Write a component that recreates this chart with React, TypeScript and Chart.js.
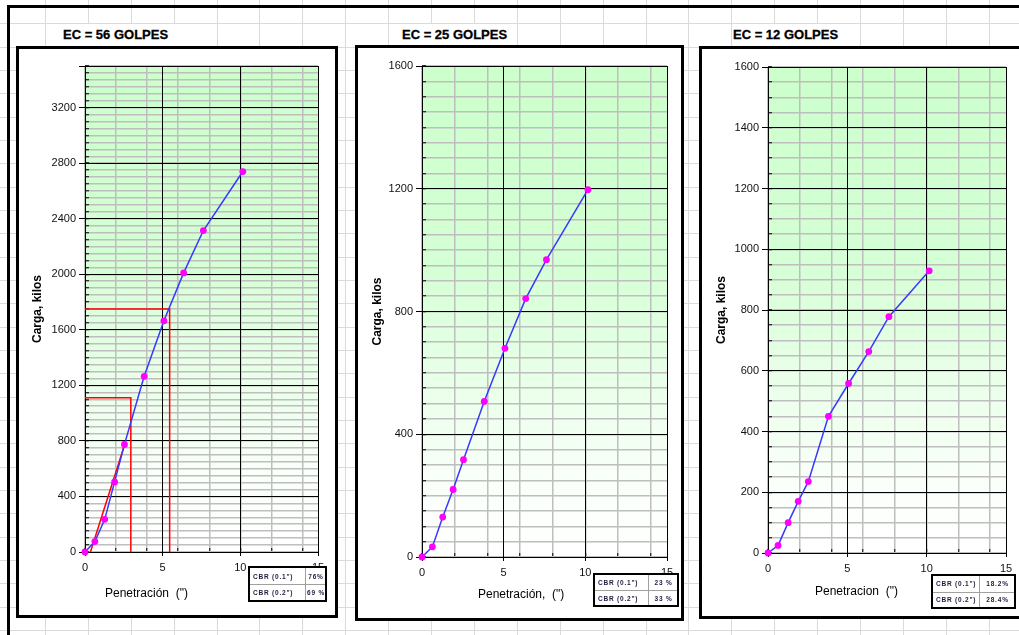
import React, { useEffect, useRef } from 'react';
import { Chart, registerables } from 'chart.js';

Chart.register(...registerables);

// ---------------- data ----------------
const penetration = [0, 0.635, 1.27, 1.905, 2.54, 3.81, 5.08, 6.35, 7.62, 10.16];
const load56 = [0, 75, 235, 505, 775, 1265, 1665, 2010, 2315, 2740];
const load25 = [0, 33, 130, 220, 317, 507, 680, 842, 969, 1197];
const load12 = [0, 25, 100, 170, 235, 450, 558, 663, 778, 929];

// correction / CBR read-off lines (56 golpes)
const corr56X = [0.35, 2.6];
const corr56Y = [0, 790];
const cbr01X56 = [0, 2.95, 2.95];
const cbr01Y56 = [1110, 1110, 0];
const cbr02X56 = [0, 5.45, 5.45];
const cbr02Y56 = [1750, 1750, 0];

const xTicks = [0, 5, 10, 15];
const xMinorTicks = [0, 2, 4, 6, 8, 10, 12, 14];
const xMax = 15;
const y56Ticks = [0, 400, 800, 1200, 1600, 2000, 2400, 2800, 3200];
const y25Ticks = [0, 400, 800, 1200, 1600];
const y12Ticks = [0, 200, 400, 600, 800, 1000, 1200, 1400, 1600];
const y56Max = 3500;
const y25Max = 1600;
const y12Max = 1600;
const yMinorStep = 50;

const panelTitles = ['EC = 56 GOLPES', 'EC = 25 GOLPES', 'EC = 12 GOLPES'];
const xTitles = ['Penetración  (")', 'Penetración,  (")', 'Penetracion  (")'];
const yTitle = 'Carga, kilos';
const cbrLabels = ['CBR (0.1")', 'CBR (0.2")'];
const cbr56 = ['76%', '69 %'];
const cbr25 = ['23 %', '33 %'];
const cbr12 = ['18.2%', '28.4%'];

// ---------------- helpers ----------------
const FONT = 'Liberation Sans, Arial, sans-serif';

function range(a: number, b: number, s: number) {
  const out: number[] = [];
  for (let v = a; v <= b + 1e-9; v += s) out.push(Math.round(v * 1000) / 1000);
  return out;
}

function pts(xs: number[], ys: number[]) {
  return xs.map((x, i) => ({ x, y: ys[i] }));
}

const bgPlugin = {
  id: 'greenBg',
  beforeDraw(chart: any) {
    const { ctx, chartArea: a } = chart;
    if (!a) return;
    const g = ctx.createLinearGradient(0, a.top, 0, a.bottom);
    g.addColorStop(0, '#ccffcc');
    g.addColorStop(0.4, '#d5ffd5');
    g.addColorStop(0.85, '#fafffa');
    g.addColorStop(1, '#ffffff');
    ctx.save();
    ctx.fillStyle = g;
    ctx.fillRect(a.left, a.top, a.right - a.left, a.bottom - a.top);
    ctx.restore();
  },
};

type Plot = { l: number; t: number; r: number; b: number };
type Line = { x: number[]; y: number[] };
type Spec = {
  plot: Plot;
  yTitleX: number;
  loads: number[];
  yTicks: number[];
  yMax: number;
  red: Line[];
};

const PAD_L = 70;
const PAD_T = 14;
const PAD_R = 14;
const X_H = 40;

function buildConfig(spec: Spec): any {
  const canvasLeft = spec.plot.l - PAD_L;
  const yMajor = spec.yTicks.includes(spec.yMax) ? spec.yTicks : [...spec.yTicks, spec.yMax];
  const datasets: any[] = [
    {
      data: pts(penetration, spec.loads),
      showLine: true,
      borderColor: '#3838ff',
      borderWidth: 1.5,
      pointRadius: 3.4,
      pointBackgroundColor: '#ff00ff',
      pointBorderWidth: 0,
      tension: 0,
      clip: false,
      order: 0,
    },
    ...spec.red.map((l) => ({
      data: pts(l.x, l.y),
      showLine: true,
      borderColor: '#ff0000',
      borderWidth: 1.5,
      pointRadius: 0,
      tension: 0,
      order: 1,
    })),
  ];
  return {
    type: 'scatter',
    data: { datasets },
    plugins: [bgPlugin],
    options: {
      animation: false,
      responsive: false,
      devicePixelRatio: 1,
      layout: { padding: { top: PAD_T, right: PAD_R, left: 0, bottom: 0 } },
      plugins: { legend: { display: false }, tooltip: { enabled: false }, title: { display: false } },
      scales: {
        xMinor: {
          type: 'linear',
          axis: 'x',
          position: 'bottom',
          min: 0,
          max: xMax,
          weight: 0,
          grid: { color: '#bebebe', lineWidth: 1.5, drawTicks: true, tickLength: -4, tickColor: '#000', tickWidth: 1, z: -2 },
          border: { display: false },
          ticks: { display: false },
          afterBuildTicks: (s: any) => {
            s.ticks = xMinorTicks.map((v) => ({ value: v }));
          },
          afterFit: (s: any) => {
            s.height = 0;
          },
        },
        x: {
          type: 'linear',
          position: 'bottom',
          min: 0,
          max: xMax,
          weight: 1,
          grid: { color: '#000', lineWidth: 1, drawTicks: true, tickLength: 4, tickColor: '#000', z: -1 },
          border: { display: true, color: '#000', width: 1 },
          ticks: {
            font: { family: FONT, size: 11 },
            color: '#111',
            padding: 5,
            maxRotation: 0,
            autoSkip: false,
            callback: (v: any) => String(v),
          },
          afterBuildTicks: (s: any) => {
            s.ticks = xTicks.map((v) => ({ value: v }));
          },
          afterFit: (s: any) => {
            s.height = X_H;
          },
        },
        yMinor: {
          type: 'linear',
          axis: 'y',
          position: 'left',
          min: 0,
          max: spec.yMax,
          weight: 0,
          grid: { color: '#bebebe', lineWidth: 1.5, drawTicks: true, tickLength: -4, tickColor: '#000', tickWidth: 1, z: -2 },
          border: { display: false },
          ticks: { display: false },
          afterBuildTicks: (s: any) => {
            s.ticks = range(0, spec.yMax, yMinorStep).map((v) => ({ value: v }));
          },
          afterFit: (s: any) => {
            s.width = 0;
          },
        },
        y: {
          type: 'linear',
          position: 'left',
          min: 0,
          max: spec.yMax,
          weight: 1,
          grid: { color: '#000', lineWidth: 1, drawTicks: true, tickLength: 6, tickColor: '#000', z: -1 },
          border: { display: true, color: '#000', width: 1 },
          ticks: {
            font: { family: FONT, size: 11 },
            color: '#111',
            padding: 3,
            autoSkip: false,
            callback: (v: any) => (spec.yTicks.includes(v) ? String(v) : ''),
          },
          title: {
            display: true,
            text: yTitle,
            color: '#000',
            font: { family: FONT, size: 12, weight: 'bold' },
            padding: { top: spec.yTitleX - canvasLeft - 7.2, bottom: 0 },
          },
          afterBuildTicks: (s: any) => {
            s.ticks = yMajor.map((v) => ({ value: v }));
          },
          afterFit: (s: any) => {
            s.width = PAD_L;
          },
        },
      },
    },
  };
}

function PanelChart({ spec }: { spec: Spec }) {
  const ref = useRef<HTMLCanvasElement>(null);
  useEffect(() => {
    const chart = new Chart(ref.current as HTMLCanvasElement, buildConfig(spec));
    return () => chart.destroy();
  }, []);
  const cl = spec.plot.l - PAD_L;
  const ct = spec.plot.t - PAD_T;
  const w = spec.plot.r - cl + PAD_R;
  const h = spec.plot.b + X_H - ct;
  return (
    <canvas
      ref={ref}
      width={w}
      height={h}
      style={{ position: 'absolute', left: cl, top: ct, width: w, height: h }}
    />
  );
}

type Layout = {
  spec: Spec;
  title: string;
  titleLeft: number;
  cover: [number, number];
  frame: { left: number; top: number; width: number; height: number };
  xTitle: string;
  xTitleLeft: number;
  xTitleTop: number;
  cbr: string[];
  table: { left: number; top: number; width: number; height: number; split: number };
};

const panels: Layout[] = [
  {
    spec: {
      plot: { l: 85, t: 66, r: 318, b: 552 },
      yTitleX: 38,
      loads: load56,
      yTicks: y56Ticks,
      yMax: y56Max,
      red: [
        { x: corr56X, y: corr56Y },
        { x: cbr01X56, y: cbr01Y56 },
        { x: cbr02X56, y: cbr02Y56 },
      ],
    },
    title: panelTitles[0],
    titleLeft: 63,
    cover: [46, 216],
    frame: { left: 16, top: 46, width: 322, height: 572 },
    xTitle: xTitles[0],
    xTitleLeft: 105,
    xTitleTop: 586,
    cbr: cbr56,
    table: { left: 248, top: 566, width: 79, height: 36, split: 57 },
  },
  {
    spec: {
      plot: { l: 422, t: 66, r: 667, b: 557 },
      yTitleX: 378,
      loads: load25,
      yTicks: y25Ticks,
      yMax: y25Max,
      red: [],
    },
    title: panelTitles[1],
    titleLeft: 402,
    cover: [389, 516],
    frame: { left: 355, top: 45, width: 329, height: 576 },
    xTitle: xTitles[1],
    xTitleLeft: 478,
    xTitleTop: 587,
    cbr: cbr25,
    table: { left: 593, top: 573, width: 86, height: 34, split: 55 },
  },
  {
    spec: {
      plot: { l: 768, t: 67, r: 1006, b: 553 },
      yTitleX: 722,
      loads: load12,
      yTicks: y12Ticks,
      yMax: y12Max,
      red: [],
    },
    title: panelTitles[2],
    titleLeft: 733,
    cover: [733, 859],
    frame: { left: 699, top: 46, width: 340, height: 573 },
    xTitle: xTitles[2],
    xTitleLeft: 815,
    xTitleTop: 584,
    cbr: cbr12,
    table: { left: 931, top: 574, width: 85, height: 35, split: 48 },
  },
];

function SheetGrid() {
  const cols: number[] = [];
  for (let k = 1; k < 25; k++) cols.push(2 + 42.9 * k);
  const rows: number[] = [];
  for (let k = 1; k < 28; k++) rows.push(23.33 * k);
  return (
    <>
      {cols.map((x) => (
        <div key={'c' + x} style={{ position: 'absolute', left: Math.round(x), top: 0, width: 1, height: 635, background: '#dadada' }} />
      ))}
      {rows.map((y) => (
        <div key={'r' + y} style={{ position: 'absolute', left: 0, top: Math.round(y), width: 1019, height: 1, background: '#dadada' }} />
      ))}
    </>
  );
}

function CbrTable({ p }: { p: Layout }) {
  const t = p.table;
  const cell: React.CSSProperties = {
    fontFamily: FONT,
    fontSize: 6.5,
    fontWeight: 'bold',
    letterSpacing: 0.8,
    color: '#1c1c3c',
    whiteSpace: 'pre',
    display: 'flex',
    alignItems: 'center',
    overflow: 'hidden',
  };
  const rowH = (t.height - 4) / 2;
  return (
    <div
      style={{
        position: 'absolute',
        left: t.left,
        top: t.top,
        width: t.width,
        height: t.height,
        border: '2px solid #000',
        boxSizing: 'border-box',
        background: '#fff',
      }}
    >
      {cbrLabels.map((lab, i) => (
        <div
          key={lab}
          style={{
            position: 'absolute',
            left: 0,
            top: i * rowH,
            width: t.width - 4,
            height: rowH,
            borderTop: i === 1 ? '1px solid #a0a0a0' : 'none',
            boxSizing: 'border-box',
          }}
        >
          <div style={{ ...cell, position: 'absolute', left: 3, top: 0, width: t.split - 5, height: '100%' }}>{lab}</div>
          <div style={{ position: 'absolute', left: t.split - 2, top: 0, width: 1, height: '100%', background: '#a0a0a0' }} />
          <div style={{ ...cell, position: 'absolute', left: t.split, top: 0, width: t.width - t.split - 4, height: '100%', justifyContent: 'center' }}>
            {p.cbr[i]}
          </div>
        </div>
      ))}
    </div>
  );
}

export default function App() {
  return (
    <div style={{ position: 'absolute', left: 0, top: 0, width: 1019, height: 635, overflow: 'hidden', background: '#fff' }}>
      <SheetGrid />
      <div style={{ position: 'absolute', left: 7, top: 5, width: 1012, height: 3, background: '#000' }} />
      <div style={{ position: 'absolute', left: 7, top: 5, width: 3, height: 630, background: '#000' }} />
      {panels.map((p) => (
        <React.Fragment key={p.title}>
          <div style={{ position: 'absolute', left: p.cover[0], top: 24, width: p.cover[1] - p.cover[0], height: 22, background: '#fff' }} />
          <div
            style={{
              position: 'absolute',
              left: p.titleLeft,
              top: 28,
              fontFamily: FONT,
              fontWeight: 'bold',
              fontSize: 13,
              lineHeight: '14px',
              color: '#000',
              whiteSpace: 'pre',
              WebkitTextStroke: '0.3px #000',
            }}
          >
            {p.title}
          </div>
          <div
            style={{
              position: 'absolute',
              left: p.frame.left,
              top: p.frame.top,
              width: p.frame.width,
              height: p.frame.height,
              border: '3px solid #000',
              boxSizing: 'border-box',
              background: '#fff',
            }}
          />
        </React.Fragment>
      ))}
      {panels.map((p) => (
        <PanelChart key={'c' + p.title} spec={p.spec} />
      ))}
      {panels.map((p) => (
        <React.Fragment key={'t' + p.title}>
          <div
            style={{
              position: 'absolute',
              left: p.xTitleLeft,
              top: p.xTitleTop,
              fontFamily: FONT,
              fontSize: 12,
              lineHeight: '14px',
              color: '#000',
              whiteSpace: 'pre',
            }}
          >
            {p.xTitle}
          </div>
          <CbrTable p={p} />
        </React.Fragment>
      ))}
    </div>
  );
}
